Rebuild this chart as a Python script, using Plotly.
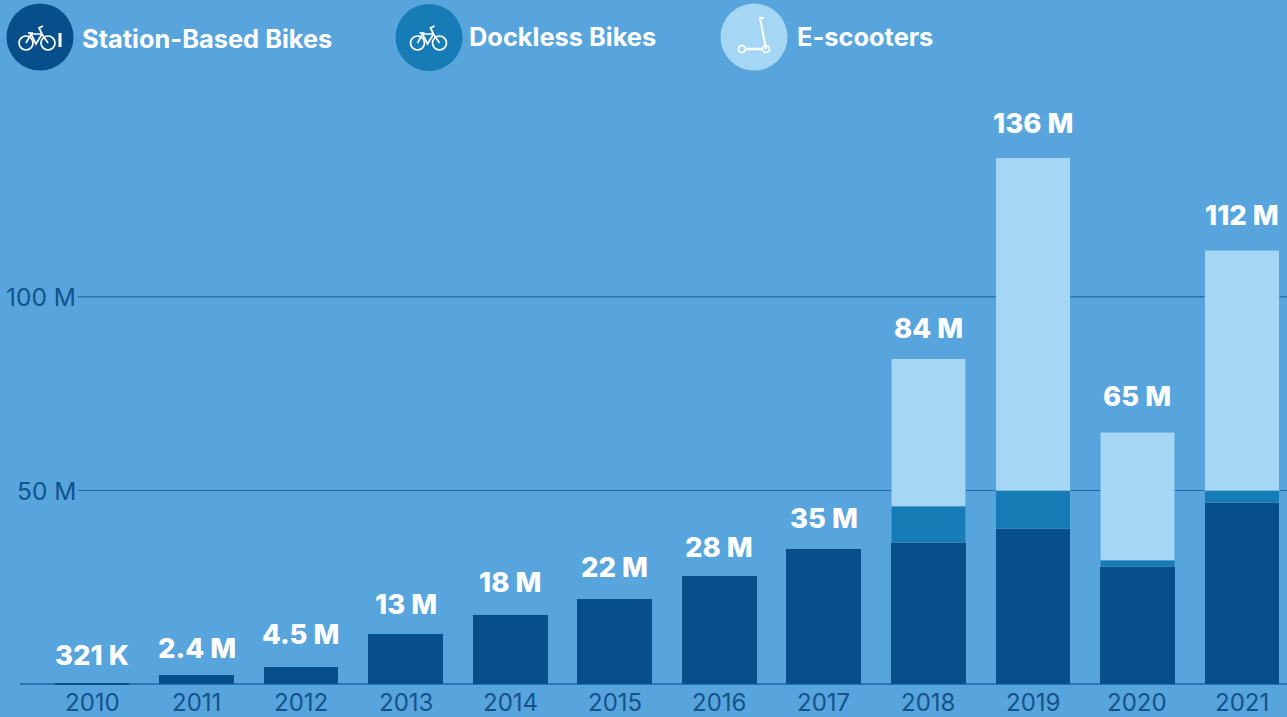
import plotly.graph_objects as go

# Annual shared micromobility trips, in millions
years = [2010, 2011, 2012, 2013, 2014, 2015, 2016, 2017, 2018, 2019, 2020, 2021]
station_based = [0.321, 2.4, 4.5, 13, 18, 22, 28, 35, 36.7, 40.3, 30.5, 47]
dockless = [0, 0, 0, 0, 0, 0, 0, 0, 9.3, 9.7, 1.5, 3]
scooters = [0, 0, 0, 0, 0, 0, 0, 0, 38, 86, 33, 62]
totals = [0.321, 2.4, 4.5, 13, 18, 22, 28, 35, 84, 136, 65, 112]
total_labels = ["321 K", "2.4 M", "4.5 M", "13 M", "18 M", "22 M", "28 M", "35 M",
                "84 M", "136 M", "65 M", "112 M"]
grid_values = [50, 100]
grid_labels = ["50 M", "100 M"]

BG = "#57A5DC"
DARK = "#064F8A"
MID = "#177BB6"
LIGHT = "#A5D7F5"
GRID = "#1A69A4"
TICK = "#12538C"
W, H = 1287, 717
LABEL_LIFT = [28, 27, 33, 30, 32, 32, 29, 31, 31, 35, 36, 35]


def px(x):
    return x / W


def py(y):
    return 1 - y / H


def circle(cx, cy, r, fill=None, line=None, width=1.7):
    return dict(type="circle", xref="paper", yref="paper", layer="above",
                x0=px(cx - r), x1=px(cx + r), y0=py(cy + r), y1=py(cy - r),
                fillcolor=fill or "rgba(0,0,0,0)",
                line=dict(color=line or "rgba(0,0,0,0)", width=width if line else 0))


def polyline(points, color="white", width=1.7):
    path = "M " + " L ".join(f"{px(x):.5f},{py(y):.5f}" for x, y in points)
    return dict(type="path", xref="paper", yref="paper", layer="above", path=path,
                line=dict(color=color, width=width))


def bike(dx, dy):
    # Bicycle glyph: two wheels, a diamond frame, saddle and handlebar
    parts = [circle(dx - 11, dy + 5, 7, line="white"), circle(dx + 11, dy + 5, 7, line="white")]
    parts.append(polyline([(dx - 11, dy + 5), (dx - 6, dy - 4), (dx + 5, dy - 4),
                           (dx + 11, dy + 5)]))
    parts.append(polyline([(dx - 6, dy - 4), (dx - 1, dy + 6), (dx + 5, dy - 4)]))
    parts.append(polyline([(dx - 9, dy - 5), (dx - 4, dy - 5)]))
    parts.append(polyline([(dx + 5, dy - 4), (dx + 2, dy - 10), (dx + 6, dy - 12)]))
    return parts


fig = go.Figure()
for name, values, color, edge in [("Station-Based Bikes", station_based, DARK, 0),
                                  ("Dockless Bikes", dockless, MID, 0.6),
                                  ("E-scooters", scooters, LIGHT, 0.6)]:
    fig.add_bar(x=years, y=values, name=name, width=0.715, marker_color=color,
                marker_line=dict(color=BG, width=edge), hoverinfo="x+y")

shapes = []
for value in grid_values:
    shapes.append(dict(type="line", xref="paper", yref="y", layer="below",
                       x0=px(78), x1=1, y0=value, y1=value,
                       line=dict(color=GRID, width=1.2)))
shapes.append(dict(type="line", xref="paper", yref="y", layer="below",
                   x0=px(20), x1=1, y0=0, y1=0, line=dict(color=GRID, width=1.5)))

# Legend badges
shapes.append(circle(40, 37, 33.5, fill=DARK))
shapes += bike(37, 38)
shapes.append(polyline([(60, 33), (60, 47)], width=3))
shapes.append(circle(429, 37.5, 33.5, fill=MID))
shapes += bike(428.5, 38)
shapes.append(circle(754, 37, 33.5, fill=LIGHT))
shapes += [circle(742, 49, 3.5, line="white"), circle(766, 49, 3.5, line="white"),
           polyline([(745, 49), (763, 49)], width=2.5),
           polyline([(766, 49), (760, 18), (764, 18)], width=2)]

annotations = []
# Totals printed above each stacked bar
for year, total, label, lift in zip(years, totals, total_labels, LABEL_LIFT):
    annotations.append(dict(text=label, xref="x", yref="y", x=year, y=total, yshift=lift,
                            xanchor="center", yanchor="middle", showarrow=False,
                            font=dict(family="Inter", size=27.5, color="white", weight=800)))
for text, x, y in [("Station-Based Bikes", 80, 38), ("Dockless Bikes", 467, 37), ("E-scooters", 795, 36)]:
    annotations.append(dict(text=text, xref="paper", yref="paper", x=px(x), y=py(y),
                            xanchor="left", yanchor="middle", showarrow=False,
                            font=dict(family="Inter", size=25.4, color="white", weight=700)))
for value, label in zip(grid_values, grid_labels):
    annotations.append(dict(text=label, xref="paper", yref="y", x=px(78), y=value,
                            xanchor="right", yanchor="middle", showarrow=False,
                            font=dict(family="Inter", size=24.5, color=TICK)))
for year in years:
    annotations.append(dict(text=str(year), xref="x", yref="paper", x=year, y=py(702),
                            xanchor="center", yanchor="middle", showarrow=False,
                            font=dict(family="Inter", size=24, color=TICK)))

fig.update_layout(
    width=W, height=H, margin=dict(l=0, r=0, t=0, b=0),
    paper_bgcolor=BG, plot_bgcolor=BG, barmode="stack", bargap=0.28, showlegend=False,
    xaxis=dict(range=[2009.12, 2021.43], visible=False, fixedrange=True),
    yaxis=dict(range=[-8.5, 176.7], visible=False, fixedrange=True),
    shapes=shapes, annotations=annotations,
)

fig.write_html("out.html", config={"displayModeBar": False})
